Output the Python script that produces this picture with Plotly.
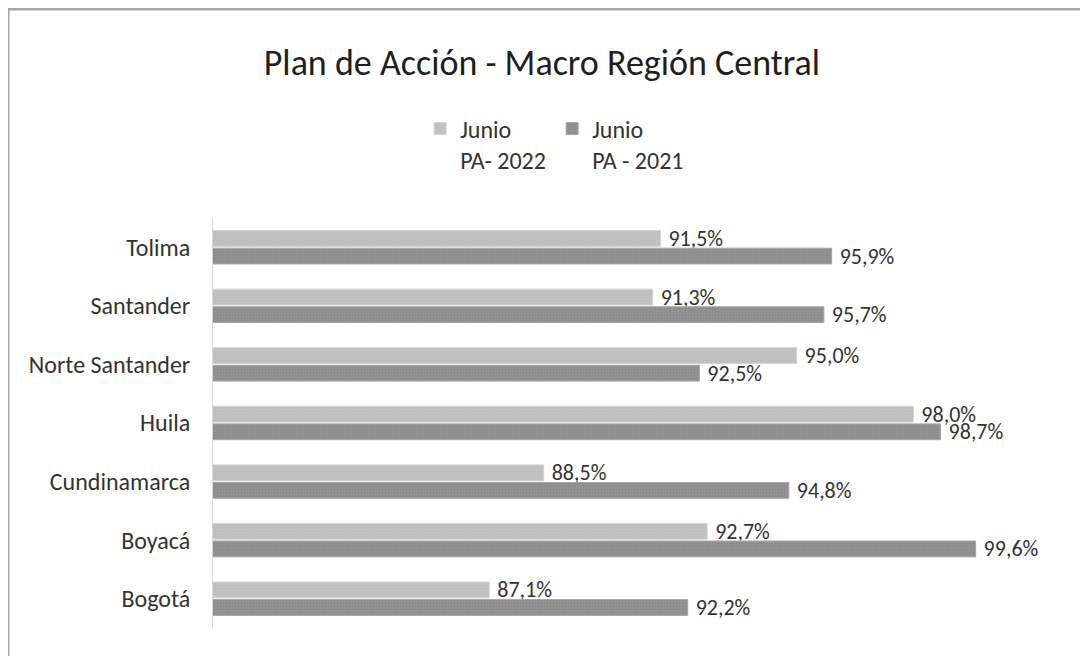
import plotly.graph_objects as go

categories = ['Tolima', 'Santander', 'Norte Santander', 'Huila', 'Cundinamarca', 'Boyacá', 'Bogotá']
pa_2022 = [91.5, 91.3, 95.0, 98.0, 88.5, 92.7, 87.1]
pa_2021 = [95.9, 95.7, 92.5, 98.7, 94.8, 99.6, 92.2]

FONT = "Carlito, Calibri, 'Liberation Sans Narrow', Roboto, sans-serif"

fig = go.Figure()

fig.add_trace(go.Bar(
    y=categories, x=pa_2022, orientation='h',
    name='Junio<br>PA- 2022',
    marker=dict(color='#BFBFBF', line=dict(color='#D4D4D4', width=1),
                pattern=dict(shape='.', fgcolor='#B3B3B3', bgcolor='#C2C2C2', size=3, solidity=0.3)),
    texttemplate=' %{x:.1f}%', textposition='outside', cliponaxis=False, constraintext='none',
    textfont=dict(family=FONT, size=22, color='#333333'),
))
fig.add_trace(go.Bar(
    y=categories, x=pa_2021, orientation='h',
    name='Junio<br>PA - 2021',
    marker=dict(color='#8F8F8F', line=dict(color='#A6A6A6', width=1),
                pattern=dict(shape='.', fgcolor='#808080', bgcolor='#939393', size=3, solidity=0.3)),
    texttemplate=' %{x:.1f}%', textposition='outside', cliponaxis=False, constraintext='none',
    textfont=dict(family=FONT, size=22, color='#333333'),
))

# page body adds 8px around the figure, so the figure is 1080x648
fig.update_layout(
    width=1080, height=648,
    paper_bgcolor='white', plot_bgcolor='white',
    separators=',.',
    barmode='group', bargap=0.4, bargroupgap=0.1,
    margin=dict(l=205, r=19, t=210, b=28),
    font=dict(family=FONT, color='#333333'),
    title=dict(text='Plan de Acción - Macro Región Central',
               x=0.4944, xanchor='center', xref='container',
               y=0.9167, yanchor='middle', yref='container',
               font=dict(family=FONT, size=36, color='#1f1f1f')),
    showlegend=True,
    legend=dict(orientation='h', x=0.242, xanchor='left', y=1.272, yanchor='top',
                font=dict(family=FONT, size=24, color='#333333'),
                valign='top', itemwidth=30, entrywidth=87, entrywidthmode='pixels',
                bgcolor='rgba(0,0,0,0)'),
    xaxis=dict(range=[80, 102], visible=False, showgrid=False, zeroline=False),
    yaxis=dict(autorange='reversed', showline=True, linecolor='#D9D9D9', linewidth=1,
               showgrid=False, ticks='', ticklabelstandoff=17,
               tickfont=dict(family=FONT, size=24, color='#333333')),
    shapes=[
        dict(type='line', xref='paper', yref='paper', x0=-0.2395, x1=1.1, y0=1.5098, y1=1.5098,
             line=dict(color='#A6A6A6', width=3)),
        dict(type='line', xref='paper', yref='paper', x0=-0.2395, x1=-0.2395, y0=-0.2, y1=1.5098,
             line=dict(color='#A6A6A6', width=3)),
    ],
)

fig.write_html("out.html")
